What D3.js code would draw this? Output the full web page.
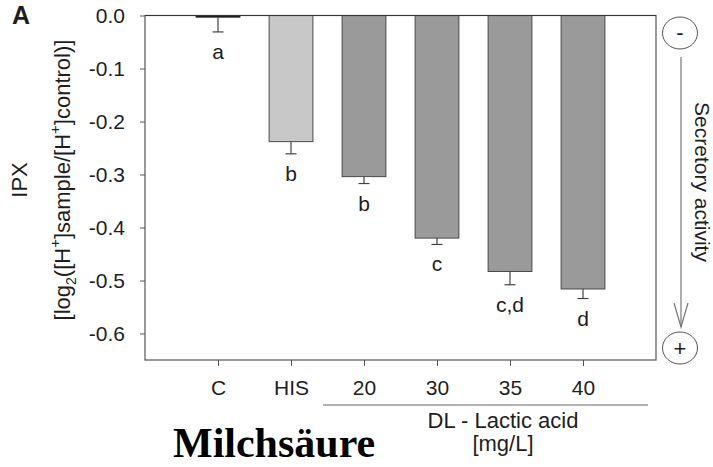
<!DOCTYPE html>
<html>
<head>
<meta charset="utf-8">
<script src="https://cdn.jsdelivr.net/npm/d3@7"></script>
<style>
  body { margin: 0; background: #fff; }
  svg { display: block; font-family: "Liberation Sans", Arial, sans-serif; }
</style>
</head>
<body>
<svg id="chart" width="713" height="467"></svg>
<script>
// data
const categories = ["C", "HIS", "20", "30", "35", "40"];
const means = [-0.003, -0.238, -0.304, -0.42, -0.483, -0.516];
const errors = [0.028, 0.023, 0.013, 0.012, 0.025, 0.018];
const letters = ["a", "b", "b", "c", "c,d", "d"];
const groups = ["control", "his", "lactic", "lactic", "lactic", "lactic"];
const yTicks = [0, -0.1, -0.2, -0.3, -0.4, -0.5, -0.6];

const svg = d3.select("#chart");
const margin = { left: 145, right: 656, top: 15.5, bottom: 360 };

const x = d3
  .scalePoint()
  .domain(categories)
  .range([margin.left, margin.right])
  .padding(1);
const y = d3.scaleLinear().domain([-0.65, 0]).range([margin.bottom, margin.top]);
const barWidth = x.step() * 0.6;

const fill = { control: "#222", his: "#c8c8c8", lactic: "#9a9a9a" };
const axisColor = "#555";
const textColor = "#1e1e1e";

// drop shadow for the reference line
const defs = svg.append("defs");
const filter = defs
  .append("filter")
  .attr("id", "shadow")
  .attr("x", "-5%")
  .attr("y", "-200%")
  .attr("width", "110%")
  .attr("height", "500%");
filter
  .append("feGaussianBlur")
  .attr("in", "SourceAlpha")
  .attr("stdDeviation", 1.6)
  .attr("result", "blur");
filter.append("feOffset").attr("in", "blur").attr("dy", 3).attr("result", "off");
filter
  .append("feComponentTransfer")
  .attr("in", "off")
  .attr("result", "soft")
  .append("feFuncA")
  .attr("type", "linear")
  .attr("slope", 0.3);
const merge = filter.append("feMerge");
merge.append("feMergeNode").attr("in", "soft");
merge.append("feMergeNode").attr("in", "SourceGraphic");

// bars (hang down from zero)
svg
  .append("g")
  .selectAll("rect")
  .data(categories)
  .join("rect")
  .attr("x", (d) => x(d) - barWidth / 2)
  .attr("y", y(0))
  .attr("width", barWidth)
  .attr("height", (d, i) => y(means[i]) - y(0))
  .attr("fill", (d, i) => fill[groups[i]])
  .attr("stroke", (d, i) => (groups[i] === "control" ? "#111" : "#4a4a4a"))
  .attr("stroke-width", 1);

// error bars (downward only)
const err = svg
  .append("g")
  .attr("stroke", "#444")
  .attr("stroke-width", 1.2);
err
  .selectAll("line.stem")
  .data(categories)
  .join("line")
  .attr("class", "stem")
  .attr("x1", (d) => x(d))
  .attr("x2", (d) => x(d))
  .attr("y1", (d, i) => y(means[i]))
  .attr("y2", (d, i) => y(means[i] - errors[i]));
err
  .selectAll("line.cap")
  .data(categories)
  .join("line")
  .attr("class", "cap")
  .attr("x1", (d) => x(d) - 5.5)
  .attr("x2", (d) => x(d) + 5.5)
  .attr("y1", (d, i) => y(means[i] - errors[i]))
  .attr("y2", (d, i) => y(means[i] - errors[i]));

// significance letters
svg
  .append("g")
  .selectAll("text")
  .data(categories)
  .join("text")
  .attr("x", (d) => x(d))
  .attr("y", (d, i) => y(means[i] - errors[i]) + 27)
  .attr("text-anchor", "middle")
  .style("font-size", "21px")
  .style("fill", textColor)
  .text((d, i) => letters[i]);

// frame
svg
  .append("rect")
  .attr("x", margin.left)
  .attr("y", margin.top)
  .attr("width", margin.right - margin.left)
  .attr("height", margin.bottom - margin.top)
  .attr("fill", "none")
  .attr("stroke", axisColor)
  .attr("stroke-width", 1.2);

// zero line
svg
  .append("line")
  .attr("x1", margin.left)
  .attr("x2", margin.right)
  .attr("y1", y(0))
  .attr("y2", y(0))
  .attr("stroke", "#333")
  .attr("stroke-width", 1.2);

// y axis (plain hyphen for negatives, like the original)
const hyphen = (d) => d3.format(".1f")(d).replace("\u2212", "-");
const yAxis = svg
  .append("g")
  .attr("transform", `translate(${margin.left},0)`)
  .call(
    d3.axisLeft(y).tickValues(yTicks).tickSize(5).tickPadding(15).tickFormat(hyphen)
  );
yAxis.select(".domain").remove();
yAxis.selectAll("line").attr("stroke", axisColor);
yAxis
  .selectAll("text")
  .style("font-size", "21px")
  .style("fill", textColor)
  .style("font-family", "Liberation Sans, Arial, sans-serif");

// x axis
const xAxis = svg
  .append("g")
  .attr("transform", `translate(0,${margin.bottom})`)
  .call(d3.axisBottom(x).tickSize(6).tickPadding(14));
xAxis.select(".domain").remove();
xAxis.selectAll("line").attr("stroke", axisColor);
xAxis
  .selectAll("text")
  .style("font-size", "21px")
  .style("fill", textColor)
  .style("font-family", "Liberation Sans, Arial, sans-serif");

// dotted reference line at the 40 mg/L level
svg
  .append("line")
  .attr("x1", margin.left - 10)
  .attr("x2", x("40") - 8)
  .attr("y1", y(means[5]))
  .attr("y2", y(means[5]))
  .attr("stroke", "#4a80c4")
  .attr("stroke-width", 4)
  .attr("stroke-dasharray", "5.5,4.9")
  .attr("filter", "url(#shadow)");

// group bracket under lactic acid ticks
svg
  .append("line")
  .attr("x1", x("20") - 41)
  .attr("x2", x("40") + 65)
  .attr("y1", 405)
  .attr("y2", 405)
  .attr("stroke", "#666")
  .attr("stroke-width", 1);

const groupLabel = svg
  .append("text")
  .attr("text-anchor", "middle")
  .style("font-size", "22px")
  .style("fill", textColor);
groupLabel.append("tspan").attr("x", 503).attr("y", 428).text("DL - Lactic acid");
groupLabel.append("tspan").attr("x", 503).attr("y", 451).text("[mg/L]");

// Milchsäure caption
svg
  .append("text")
  .attr("x", 173)
  .attr("y", 457)
  .style("font-family", "Liberation Serif, Times New Roman, serif")
  .style("font-weight", "bold")
  .style("font-size", "42px")
  .style("fill", "#000")
  .text("Milchsäure");

// panel letter
svg
  .append("text")
  .attr("x", 12)
  .attr("y", 24)
  .style("font-weight", "bold")
  .style("font-size", "25px")
  .style("fill", textColor)
  .text("A");

// y axis titles
svg
  .append("text")
  .attr("transform", "translate(27,180) rotate(-90)")
  .attr("text-anchor", "middle")
  .style("font-size", "22px")
  .style("fill", textColor)
  .text("IPX");

const yTitle = svg
  .append("text")
  .attr("transform", "translate(70,180) rotate(-90)")
  .attr("text-anchor", "middle")
  .style("font-size", "22px")
  .style("fill", textColor);
yTitle.append("tspan").text("[log");
yTitle.append("tspan").attr("dy", 6).style("font-size", "14px").text("2");
yTitle.append("tspan").attr("dy", -6).text("([H");
yTitle.append("tspan").attr("dy", -10).style("font-size", "15px").text("+");
yTitle.append("tspan").attr("dy", 10).text("]sample/[H");
yTitle.append("tspan").attr("dy", -10).style("font-size", "15px").text("+");
yTitle.append("tspan").attr("dy", 10).text("]control)]");

// secretory activity indicator on the right
const side = svg.append("g").attr("stroke", "#555").attr("fill", "none");
side
  .append("ellipse")
  .attr("cx", 680)
  .attr("cy", 33)
  .attr("rx", 17.5)
  .attr("ry", 16)
  .attr("stroke-width", 1);
side
  .append("ellipse")
  .attr("cx", 680)
  .attr("cy", 348)
  .attr("rx", 17.5)
  .attr("ry", 16)
  .attr("stroke-width", 1);
side
  .append("line")
  .attr("x1", 681)
  .attr("x2", 681)
  .attr("y1", 57)
  .attr("y2", 327)
  .attr("stroke", "#777")
  .attr("stroke-width", 1.2);
side
  .append("path")
  .attr("d", "M674,303 L681,327 L688,303")
  .attr("stroke", "#777")
  .attr("stroke-width", 1.2);

svg
  .append("text")
  .attr("x", 680)
  .attr("y", 40)
  .attr("text-anchor", "middle")
  .style("font-size", "22px")
  .style("fill", textColor)
  .text("-");
svg
  .append("text")
  .attr("x", 680)
  .attr("y", 356)
  .attr("text-anchor", "middle")
  .style("font-size", "22px")
  .style("fill", textColor)
  .text("+");

svg
  .append("text")
  .attr("transform", "translate(695,182) rotate(90)")
  .attr("text-anchor", "middle")
  .style("font-size", "21px")
  .style("fill", textColor)
  .text("Secretory activity");
</script>
</body>
</html>
